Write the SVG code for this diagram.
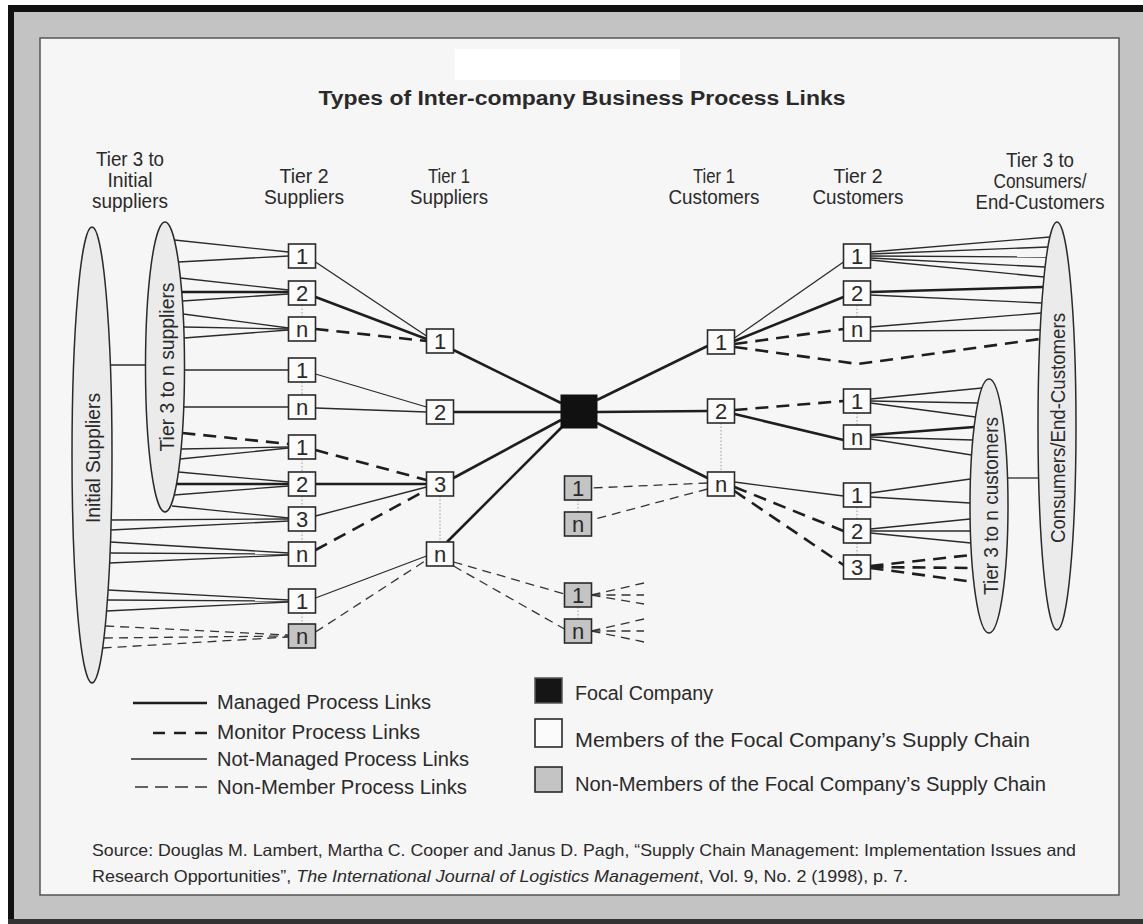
<svg xmlns="http://www.w3.org/2000/svg" width="1143" height="924" viewBox="0 0 1143 924">
<style>
.m{stroke:#1e1e1e;stroke-width:2.6;fill:none}
.mon{stroke:#1e1e1e;stroke-width:2.6;stroke-dasharray:13 8;fill:none}
.nm{stroke:#2a2a2a;stroke-width:1.3;fill:none}
.nmem{stroke:#333;stroke-width:1.3;stroke-dasharray:9 6;fill:none}
.dot{stroke:#9a9a9a;stroke-width:1;stroke-dasharray:1.5 2;fill:none}
.box{fill:#fbfbfb;stroke:#2a2a2a;stroke-width:1.6}
.gbox{fill:#c4c4c4;stroke:#2a2a2a;stroke-width:1.6}
.ell{fill:#ebebeb;stroke:#2a2a2a;stroke-width:1.5}
text{font-family:'Liberation Sans',Arial,sans-serif;fill:#2a2a2a}
.n{font-size:22px;text-anchor:middle}
.h{font-size:20px;text-anchor:middle}
.lg{font-size:20px}
.lr{font-size:20px}
.src{font-size:16.5px}
</style>
<g id="frame">
<rect x="0" y="0" width="1143" height="924" fill="#ffffff"/>
<rect x="8" y="5" width="1135" height="919" fill="#c3c3c3"/>
<rect x="8" y="5" width="6" height="919" fill="#111"/>
<rect x="8" y="5" width="1135" height="7" fill="#111"/>
<rect x="8" y="919" width="1135" height="5" fill="#333"/>
<rect x="40" y="38" width="1079" height="857" fill="#f6f6f6" stroke="#555" stroke-width="1.5"/>
<rect x="455" y="49" width="225" height="31" fill="#ffffff"/>
</g>
<text id="title" x="582" y="105" font-size="20" font-weight="bold" text-anchor="middle" textLength="527" lengthAdjust="spacingAndGlyphs">Types of Inter-company Business Process Links</text>
<g id="headers">
<text class="h" x="130" y="166" textLength="68" lengthAdjust="spacingAndGlyphs">Tier 3 to</text>
<text class="h" x="130" y="187" textLength="45" lengthAdjust="spacingAndGlyphs">Initial</text>
<text class="h" x="130" y="208" textLength="76" lengthAdjust="spacingAndGlyphs">suppliers</text>
<text class="h" x="304" y="183" textLength="49" lengthAdjust="spacingAndGlyphs">Tier 2</text>
<text class="h" x="304" y="204" textLength="80" lengthAdjust="spacingAndGlyphs">Suppliers</text>
<text class="h" x="449" y="183" textLength="42" lengthAdjust="spacingAndGlyphs">Tier 1</text>
<text class="h" x="449" y="204" textLength="78" lengthAdjust="spacingAndGlyphs">Suppliers</text>
<text class="h" x="714" y="183" textLength="42" lengthAdjust="spacingAndGlyphs">Tier 1</text>
<text class="h" x="714" y="204" textLength="91" lengthAdjust="spacingAndGlyphs">Customers</text>
<text class="h" x="858" y="183" textLength="49" lengthAdjust="spacingAndGlyphs">Tier 2</text>
<text class="h" x="858" y="204" textLength="91" lengthAdjust="spacingAndGlyphs">Customers</text>
<text class="h" x="1040" y="167" textLength="68" lengthAdjust="spacingAndGlyphs">Tier 3 to</text>
<text class="h" x="1040" y="188" textLength="93" lengthAdjust="spacingAndGlyphs">Consumers/</text>
<text class="h" x="1040" y="209" textLength="129" lengthAdjust="spacingAndGlyphs">End-Customers</text>
</g>
<g id="connectors">
<line class="nm" x1="110.4" y1="365" x2="145.6" y2="365"/>
<line class="nm" x1="1007.5" y1="478" x2="1038.3" y2="478"/>
<line class="nm" x1="174.4" y1="240" x2="288.5" y2="252"/>
<line class="nm" x1="178.5" y1="262" x2="288.5" y2="256"/>
<line class="nm" x1="180.4" y1="278" x2="288.5" y2="290"/>
<line class="m" x1="181.7" y1="292" x2="288.5" y2="292"/>
<line class="nm" x1="182.4" y1="301" x2="288.5" y2="294"/>
<line class="nm" x1="183.1" y1="314" x2="288.5" y2="328"/>
<line class="nm" x1="183.7" y1="327" x2="288.5" y2="329"/>
<line class="nm" x1="184.1" y1="338" x2="288.5" y2="330"/>
<line class="nm" x1="184.5" y1="370" x2="288.5" y2="370"/>
<line class="nm" x1="183.7" y1="407" x2="288.5" y2="407"/>
<line class="mon" x1="182.4" y1="433" x2="288.5" y2="444"/>
<line class="nm" x1="181.1" y1="449" x2="288.5" y2="447"/>
<line class="nm" x1="180.1" y1="459" x2="288.5" y2="448"/>
<line class="nm" x1="178.5" y1="472" x2="288.5" y2="482"/>
<line class="m" x1="176.5" y1="484" x2="288.5" y2="484"/>
<line class="nm" x1="174.2" y1="495" x2="288.5" y2="486"/>
<line class="nm" x1="172" y1="506" x2="288.5" y2="518"/>
<line class="nm" x1="111.2" y1="520" x2="288.5" y2="519"/>
<line class="nm" x1="110.9" y1="530" x2="288.5" y2="521"/>
<line class="nm" x1="110.5" y1="542" x2="288.5" y2="553"/>
<line class="nm" x1="110.1" y1="553" x2="288.5" y2="554"/>
<line class="nm" x1="109.6" y1="563" x2="288.5" y2="555"/>
<line class="nm" x1="108.1" y1="590" x2="288.5" y2="600"/>
<line class="nm" x1="107.4" y1="600" x2="288.5" y2="601"/>
<line class="nm" x1="106.6" y1="611" x2="288.5" y2="602"/>
<line class="nmem" x1="105.2" y1="626" x2="288.5" y2="635"/>
<line class="nmem" x1="103.9" y1="638" x2="288.5" y2="636"/>
<line class="nmem" x1="102.6" y1="648" x2="288.5" y2="637"/>
<line class="nm" x1="315.5" y1="262" x2="426.5" y2="336"/>
<line class="m" x1="315.5" y1="297" x2="426.5" y2="339"/>
<line class="mon" x1="315.5" y1="329" x2="426.5" y2="341"/>
<line class="nm" x1="315.5" y1="374" x2="426.5" y2="407"/>
<line class="nm" x1="315.5" y1="408" x2="426.5" y2="412"/>
<line class="mon" x1="315.5" y1="450" x2="426.5" y2="480"/>
<line class="m" x1="315.5" y1="484" x2="426.5" y2="484"/>
<line class="nm" x1="315.5" y1="516" x2="426.5" y2="487"/>
<line class="mon" x1="315.5" y1="550" x2="426.5" y2="490"/>
<line class="nm" x1="315.5" y1="598" x2="426.5" y2="556"/>
<line class="nmem" x1="315.5" y1="632" x2="426.5" y2="560"/>
<line class="m" x1="453.5" y1="350" x2="561" y2="403"/>
<line class="m" x1="453.5" y1="412" x2="561" y2="412"/>
<line class="m" x1="453.5" y1="478" x2="561" y2="420"/>
<line class="m" x1="447" y1="542" x2="563" y2="426"/>
<line class="m" x1="597" y1="400" x2="707.5" y2="346"/>
<line class="m" x1="597" y1="412" x2="707.5" y2="411"/>
<line class="m" x1="597" y1="423" x2="707.5" y2="478"/>
<line class="nmem" x1="453.5" y1="562" x2="564.5" y2="594"/>
<line class="nmem" x1="453.5" y1="566" x2="564.5" y2="629"/>
<line class="nmem" x1="707.5" y1="483" x2="591.5" y2="488"/>
<line class="nmem" x1="707.5" y1="489" x2="591.5" y2="520"/>
<line class="nmem" x1="591.5" y1="595" x2="644" y2="583"/>
<line class="nmem" x1="591.5" y1="595" x2="644" y2="595"/>
<line class="nmem" x1="591.5" y1="595" x2="644" y2="604"/>
<line class="nmem" x1="591.5" y1="631" x2="644" y2="619"/>
<line class="nmem" x1="591.5" y1="631" x2="644" y2="631"/>
<line class="nmem" x1="591.5" y1="631" x2="644" y2="642"/>
<line class="nm" x1="734.5" y1="338" x2="843.5" y2="262"/>
<line class="m" x1="734.5" y1="341" x2="843.5" y2="297"/>
<line class="mon" x1="734.5" y1="344" x2="843.5" y2="329"/>
<polyline class="mon" points="734.5,347 858,364 1039.8,339"/>
<line class="mon" x1="734.5" y1="410" x2="843.5" y2="401"/>
<line class="m" x1="734.5" y1="414" x2="843.5" y2="440"/>
<line class="nm" x1="734.5" y1="482" x2="843.5" y2="496"/>
<line class="mon" x1="734.5" y1="487" x2="843.5" y2="531"/>
<line class="mon" x1="734.5" y1="491" x2="843.5" y2="565"/>
<line class="nm" x1="870.5" y1="252" x2="1049.8" y2="237"/>
<line class="nm" x1="870.5" y1="254" x2="1047.9" y2="247"/>
<line class="nm" x1="870.5" y1="256" x2="1046.4" y2="257"/>
<line class="nm" x1="870.5" y1="258" x2="1045.1" y2="267"/>
<line class="nm" x1="870.5" y1="260" x2="1044" y2="277"/>
<line class="m" x1="870.5" y1="292" x2="1043.1" y2="287"/>
<line class="nm" x1="870.5" y1="295" x2="1041.8" y2="303"/>
<line class="nm" x1="870.5" y1="327" x2="1041.2" y2="313"/>
<line class="nm" x1="870.5" y1="331" x2="1040.2" y2="330"/>
<line class="nm" x1="870.5" y1="399" x2="982" y2="388"/>
<line class="nm" x1="870.5" y1="401" x2="977.9" y2="403"/>
<line class="nm" x1="870.5" y1="403" x2="975.5" y2="417"/>
<line class="m" x1="870.5" y1="435" x2="974.1" y2="427"/>
<line class="nm" x1="870.5" y1="437" x2="972.8" y2="440"/>
<line class="nm" x1="870.5" y1="439" x2="971.6" y2="455"/>
<line class="nm" x1="870.5" y1="493" x2="970.4" y2="479"/>
<line class="nm" x1="870.5" y1="497" x2="970" y2="503"/>
<line class="nm" x1="870.5" y1="529" x2="970.1" y2="519"/>
<line class="nm" x1="870.5" y1="531" x2="970.4" y2="531"/>
<line class="nm" x1="870.5" y1="533" x2="970.8" y2="543"/>
<line class="mon" x1="870.5" y1="566" x2="971.5" y2="555"/>
<line class="mon" x1="870.5" y1="567" x2="972.4" y2="568"/>
<line class="mon" x1="870.5" y1="568" x2="973.8" y2="582"/>
<line class="dot" x1="302" y1="305" x2="302" y2="317"/>
<line class="dot" x1="302" y1="382" x2="302" y2="395"/>
<line class="dot" x1="302" y1="459" x2="302" y2="472"/>
<line class="dot" x1="302" y1="496" x2="302" y2="507"/>
<line class="dot" x1="302" y1="531" x2="302" y2="542"/>
<line class="dot" x1="302" y1="613" x2="302" y2="624"/>
<line class="dot" x1="440" y1="496" x2="440" y2="542"/>
<line class="dot" x1="578" y1="500" x2="578" y2="512"/>
<line class="dot" x1="578" y1="607" x2="578" y2="619"/>
<line class="dot" x1="721" y1="423" x2="721" y2="472"/>
<line class="dot" x1="857" y1="305" x2="857" y2="317"/>
<line class="dot" x1="857" y1="413" x2="857" y2="425"/>
<line class="dot" x1="857" y1="507" x2="857" y2="519"/>
<line class="dot" x1="857" y1="543" x2="857" y2="555"/>
</g>
<g id="ell-initial"><ellipse class="ell" cx="92" cy="455" rx="20" ry="228"/><text class="h" transform="translate(93,458) rotate(-90)" y="7" textLength="130" lengthAdjust="spacingAndGlyphs">Initial Suppliers</text></g>
<g id="ell-tier3sup"><ellipse class="ell" cx="165" cy="367" rx="19.5" ry="145"/><text class="h" transform="translate(167,367) rotate(-90)" y="7" textLength="169" lengthAdjust="spacingAndGlyphs">Tier 3 to n suppliers</text></g>
<g id="ell-consumers"><ellipse class="ell" cx="1057" cy="426" rx="19" ry="204"/><text class="h" transform="translate(1058,428) rotate(-90)" y="7" textLength="230" lengthAdjust="spacingAndGlyphs">Consumers/End-Customers</text></g>
<g id="ell-tier3cust"><ellipse class="ell" cx="989" cy="506" rx="19" ry="127"/><text class="h" transform="translate(991,506) rotate(-90)" y="7" textLength="178" lengthAdjust="spacingAndGlyphs">Tier 3 to n customers</text></g>
<g id="focal"><rect x="561" y="395" width="36" height="33" fill="#111" stroke="#111"/></g>
<g id="s2-1"><rect class="box" x="288.5" y="244" width="27" height="24"/><text class="n" x="302" y="264">1</text></g>
<g id="s2-2"><rect class="box" x="288.5" y="281" width="27" height="24"/><text class="n" x="302" y="301">2</text></g>
<g id="s2-n"><rect class="box" x="288.5" y="317" width="27" height="24"/><text class="n" x="302" y="337">n</text></g>
<g id="s2-1b"><rect class="box" x="288.5" y="358" width="27" height="24"/><text class="n" x="302" y="378">1</text></g>
<g id="s2-nb"><rect class="box" x="288.5" y="395" width="27" height="24"/><text class="n" x="302" y="415">n</text></g>
<g id="s2-1c"><rect class="box" x="288.5" y="435" width="27" height="24"/><text class="n" x="302" y="455">1</text></g>
<g id="s2-2c"><rect class="box" x="288.5" y="472" width="27" height="24"/><text class="n" x="302" y="492">2</text></g>
<g id="s2-3c"><rect class="box" x="288.5" y="507" width="27" height="24"/><text class="n" x="302" y="527">3</text></g>
<g id="s2-nc"><rect class="box" x="288.5" y="542" width="27" height="24"/><text class="n" x="302" y="562">n</text></g>
<g id="s2-1d"><rect class="box" x="288.5" y="589" width="27" height="24"/><text class="n" x="302" y="609">1</text></g>
<g id="s2-nd"><rect class="gbox" x="288.5" y="624" width="27" height="24"/><text class="n" x="302" y="644">n</text></g>
<g id="s1-1"><rect class="box" x="426.5" y="329" width="27" height="24"/><text class="n" x="440" y="349">1</text></g>
<g id="s1-2"><rect class="box" x="426.5" y="400" width="27" height="24"/><text class="n" x="440" y="420">2</text></g>
<g id="s1-3"><rect class="box" x="426.5" y="472" width="27" height="24"/><text class="n" x="440" y="492">3</text></g>
<g id="s1-n"><rect class="box" x="426.5" y="542" width="27" height="24"/><text class="n" x="440" y="562">n</text></g>
<g id="x-1"><rect class="gbox" x="564.5" y="476" width="27" height="24"/><text class="n" x="578" y="496">1</text></g>
<g id="x-n"><rect class="gbox" x="564.5" y="512" width="27" height="24"/><text class="n" x="578" y="532">n</text></g>
<g id="y-1"><rect class="gbox" x="564.5" y="583" width="27" height="24"/><text class="n" x="578" y="603">1</text></g>
<g id="y-n"><rect class="gbox" x="564.5" y="619" width="27" height="24"/><text class="n" x="578" y="639">n</text></g>
<g id="c1-1"><rect class="box" x="707.5" y="330" width="27" height="24"/><text class="n" x="721" y="350">1</text></g>
<g id="c1-2"><rect class="box" x="707.5" y="399" width="27" height="24"/><text class="n" x="721" y="419">2</text></g>
<g id="c1-n"><rect class="box" x="707.5" y="472" width="27" height="24"/><text class="n" x="721" y="492">n</text></g>
<g id="c2-1"><rect class="box" x="843.5" y="244" width="27" height="24"/><text class="n" x="857" y="264">1</text></g>
<g id="c2-2"><rect class="box" x="843.5" y="281" width="27" height="24"/><text class="n" x="857" y="301">2</text></g>
<g id="c2-n"><rect class="box" x="843.5" y="317" width="27" height="24"/><text class="n" x="857" y="337">n</text></g>
<g id="c2-1b"><rect class="box" x="843.5" y="389" width="27" height="24"/><text class="n" x="857" y="409">1</text></g>
<g id="c2-nb"><rect class="box" x="843.5" y="425" width="27" height="24"/><text class="n" x="857" y="445">n</text></g>
<g id="c2-1c"><rect class="box" x="843.5" y="483" width="27" height="24"/><text class="n" x="857" y="503">1</text></g>
<g id="c2-2c"><rect class="box" x="843.5" y="519" width="27" height="24"/><text class="n" x="857" y="539">2</text></g>
<g id="c2-3c"><rect class="box" x="843.5" y="555" width="27" height="24"/><text class="n" x="857" y="575">3</text></g>
<g id="legend">
<line class="m" x1="133" y1="703" x2="207" y2="703"/>
<line class="mon" x1="153" y1="733" x2="207" y2="733" style="stroke-dasharray:12 9"/>
<line class="nm" x1="131" y1="759" x2="207" y2="759"/>
<line class="nmem" x1="135" y1="787" x2="207" y2="787" style="stroke-dasharray:13 7"/>
<text class="lg" x="217" y="709" textLength="214" lengthAdjust="spacingAndGlyphs">Managed Process Links</text>
<text class="lg" x="217" y="739" textLength="203" lengthAdjust="spacingAndGlyphs">Monitor Process Links</text>
<text class="lg" x="217" y="766" textLength="252" lengthAdjust="spacingAndGlyphs">Not-Managed Process Links</text>
<text class="lg" x="217" y="794" textLength="250" lengthAdjust="spacingAndGlyphs">Non-Member Process Links</text>
<rect x="535" y="678" width="27" height="25" fill="#151515" stroke="#555" stroke-width="1.5"/>
<rect class="box" x="535" y="719" width="27" height="28"/>
<rect class="gbox" x="535" y="767" width="27" height="25"/>
<text class="lr" x="575" y="700" textLength="138" lengthAdjust="spacingAndGlyphs">Focal Company</text>
<text class="lr" x="575" y="747" textLength="455" lengthAdjust="spacingAndGlyphs">Members of the Focal Company’s Supply Chain</text>
<text class="lr" x="575" y="791" textLength="471" lengthAdjust="spacingAndGlyphs">Non-Members of the Focal Company’s Supply Chain</text>
</g>
<g id="source">
<text class="src" x="92" y="856" textLength="984" lengthAdjust="spacingAndGlyphs">Source: Douglas M. Lambert, Martha C. Cooper and Janus D. Pagh, “Supply Chain Management: Implementation Issues and</text>
<text class="src" x="92" y="882" textLength="816" lengthAdjust="spacingAndGlyphs">Research Opportunities”, <tspan font-style="italic">The International Journal of Logistics Management</tspan>, Vol. 9, No. 2 (1998), p. 7.</text>
</g>
</svg>
